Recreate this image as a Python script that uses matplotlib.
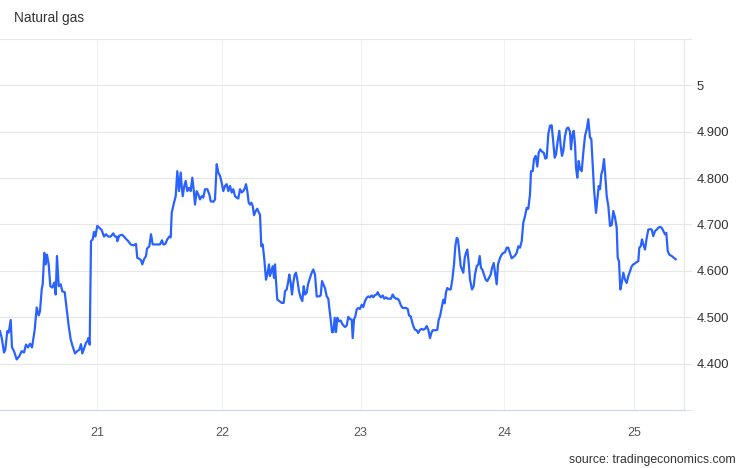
import matplotlib
matplotlib.use("Agg")
import matplotlib.pyplot as plt

plt.rcParams['font.family'] = ['Liberation Sans', 'DejaVu Sans']

# session position (chart time index) and price
t = [0, 1.7, 4, 5.3, 7.3, 8.7, 10.7, 12, 14, 16.7, 19.3, 21.7, 24, 26, 28, 30, 32, 34.7, 36.7, 38.7,
     40, 41.7, 42.7, 44.3, 45.7, 47, 48.7, 50.3, 52.3, 54.3, 55.7, 57, 58.7, 60.7, 62.3, 64.7, 66.7, 68.7, 70.7, 72.7,
     75, 77.3, 79.3, 81, 82.3, 84.3, 86, 87.3, 88.3, 89.7, 91, 92.7, 94, 95.3, 97.3, 99.3, 101.7, 104, 106, 108.3,
     110.7, 113.3, 115, 116.7, 117.3, 119.3, 122, 124, 126, 128.3, 130.7, 133.3, 136, 137.3, 139.3, 141, 142.3, 144, 146, 147,
     149.3, 151, 152.7, 155, 157.3, 160, 162, 163.3, 165.3, 167.3, 169.3, 170.7, 171.7, 174, 175.7, 177.3, 179, 180.7, 181.7, 182.7,
     184.3, 185.7, 187.3, 189, 190.7, 192.3, 194, 195, 196.7, 198.3, 200, 201.7, 203.3, 205, 207.3, 209.3, 210.7, 213.3, 215, 216.7,
     218.3, 220, 221.7, 223.3, 225, 226.7, 228.3, 230, 231.7, 233.3, 235, 236.7, 238.3, 240, 241.7, 243.3, 245, 246, 247.3, 248.7,
     250, 251.3, 252.7, 254, 255.7, 257.3, 259, 260, 261.3, 262.7, 264.3, 266, 267.3, 269, 270, 271.3, 272.7, 274, 275, 276,
     277.3, 279.3, 281.7, 283.7, 285, 286.7, 288.3, 289.3, 290.7, 292, 293.3, 294.7, 296, 297.3, 299, 300.7, 302.3, 303.7, 305, 306.7,
     308, 310, 311.7, 313.3, 315, 316.7, 319, 320.7, 322, 323.3, 325, 326.7, 328.3, 329.3, 330.7, 332, 333.3, 334.7, 336, 337.3,
     339, 340.7, 342.7, 345, 346.7, 348.3, 350, 351.7, 352.7, 354, 355.3, 356.7, 358.3, 360, 361.7, 363.3, 365, 366.7, 368.3, 370,
     371.7, 373.3, 375, 376.7, 377.7, 379.3, 381, 382.7, 384.3, 386, 387.7, 389.3, 391, 392.7, 394.3, 396, 397.7, 399.3, 401, 402.7,
     404.3, 406, 407.7, 409, 410.7, 412, 413.3, 415, 416.7, 418.3, 420, 421.7, 423.3, 425, 426.7, 428.3, 430, 431.3, 432.7, 434.3,
     436, 437.3, 438.7, 440, 441.7, 443.3, 444.7, 446, 447.3, 449, 450.7, 452.3, 454, 455.3, 456.7, 458, 459.3, 460.7, 462, 463.3,
     464.7, 466, 467.3, 468.7, 470, 472, 473.7, 475, 476.7, 478.3, 479.7, 481, 482.3, 484, 485.7, 487.3, 489, 490.7, 492, 493.7,
     495.3, 496.7, 498, 500, 501.7, 503.3, 505, 506.7, 508.3, 510, 511.7, 513.3, 515, 516.7, 518.3, 520, 521.7, 523.3, 525, 526.7,
     528.3, 530, 531, 532.7, 534, 535.7, 537.3, 538.7, 540.3, 542, 543.7, 545.3, 546.7, 548.3, 550, 551.7, 553.3, 554.7, 556, 557.7,
     559.3, 560.7, 562, 563.3, 565, 566.7, 568.3, 570, 571, 572.3, 573.7, 575, 576, 577.3, 578.7, 580, 581.7, 583.3, 585, 586.7,
     588.3, 590, 591.3, 592.7, 594, 595, 596, 597.3, 598.7, 600, 601.3, 602.7, 604, 605.3, 606.7, 608.3, 610, 611.7, 613.3, 615,
     616.7, 617.7, 619, 620.3, 621.7, 623.3, 625, 626.7, 628.3, 630, 631.7, 633.3, 635, 636.7, 638.3, 639.3, 640.7, 642, 643.3, 645,
     646.7, 648.3, 650, 651.7, 653.3, 655, 656.7, 658.3, 660, 661.7, 663.3, 665, 666.3, 667.7, 669.3, 671.7, 674, 675.7]

price = [4.470, 4.456, 4.424, 4.430, 4.470, 4.467, 4.494, 4.435, 4.427, 4.409, 4.416, 4.427, 4.424, 4.441, 4.435, 4.443, 4.435, 4.473, 4.521, 4.504,
         4.513, 4.560, 4.571, 4.639, 4.614, 4.635, 4.614, 4.567, 4.564, 4.575, 4.549, 4.632, 4.567, 4.571, 4.556, 4.554, 4.517, 4.481, 4.452, 4.437,
         4.422, 4.427, 4.430, 4.442, 4.422, 4.434, 4.445, 4.448, 4.455, 4.441, 4.664, 4.668, 4.684, 4.674, 4.697, 4.693, 4.688, 4.674, 4.679, 4.674,
         4.674, 4.681, 4.674, 4.674, 4.664, 4.676, 4.678, 4.674, 4.669, 4.664, 4.657, 4.655, 4.658, 4.628, 4.626, 4.623, 4.614, 4.625, 4.632, 4.648,
         4.653, 4.679, 4.657, 4.657, 4.657, 4.657, 4.666, 4.657, 4.658, 4.668, 4.674, 4.672, 4.725, 4.747, 4.761, 4.815, 4.772, 4.812, 4.783, 4.761,
         4.783, 4.794, 4.772, 4.779, 4.772, 4.801, 4.769, 4.743, 4.772, 4.765, 4.754, 4.761, 4.758, 4.776, 4.776, 4.765, 4.750, 4.749, 4.754, 4.830,
         4.812, 4.805, 4.790, 4.772, 4.783, 4.787, 4.772, 4.783, 4.769, 4.776, 4.761, 4.758, 4.756, 4.776, 4.769, 4.772, 4.779, 4.787, 4.772, 4.747,
         4.743, 4.747, 4.740, 4.720, 4.729, 4.734, 4.725, 4.721, 4.653, 4.657, 4.625, 4.581, 4.592, 4.614, 4.589, 4.599, 4.610, 4.585, 4.614, 4.578,
         4.538, 4.535, 4.531, 4.531, 4.556, 4.560, 4.578, 4.592, 4.574, 4.549, 4.574, 4.592, 4.596, 4.581, 4.556, 4.542, 4.535, 4.567, 4.549, 4.553,
         4.571, 4.585, 4.596, 4.603, 4.592, 4.545, 4.545, 4.547, 4.578, 4.571, 4.563, 4.545, 4.540, 4.520, 4.495, 4.468, 4.468, 4.499, 4.468, 4.499,
         4.491, 4.493, 4.484, 4.479, 4.482, 4.501, 4.496, 4.495, 4.455, 4.495, 4.502, 4.517, 4.520, 4.518, 4.527, 4.522, 4.535, 4.542, 4.545, 4.543,
         4.547, 4.543, 4.548, 4.549, 4.554, 4.547, 4.543, 4.547, 4.540, 4.543, 4.540, 4.540, 4.540, 4.549, 4.543, 4.540, 4.540, 4.535, 4.525, 4.520,
         4.520, 4.520, 4.518, 4.504, 4.502, 4.491, 4.481, 4.473, 4.472, 4.466, 4.473, 4.475, 4.473, 4.475, 4.481, 4.473, 4.455, 4.466, 4.472, 4.472,
         4.472, 4.473, 4.495, 4.502, 4.520, 4.538, 4.530, 4.554, 4.563, 4.560, 4.560, 4.581, 4.614, 4.653, 4.671, 4.668, 4.639, 4.610, 4.603, 4.596,
         4.628, 4.639, 4.646, 4.617, 4.581, 4.560, 4.567, 4.592, 4.610, 4.614, 4.632, 4.606, 4.603, 4.592, 4.581, 4.578, 4.585, 4.592, 4.606, 4.617,
         4.592, 4.571, 4.614, 4.628, 4.635, 4.639, 4.640, 4.650, 4.650, 4.638, 4.627, 4.630, 4.633, 4.639, 4.653, 4.650, 4.664, 4.704, 4.718, 4.736,
         4.734, 4.765, 4.815, 4.815, 4.841, 4.848, 4.825, 4.855, 4.862, 4.857, 4.855, 4.842, 4.844, 4.895, 4.913, 4.914, 4.877, 4.844, 4.851, 4.880,
         4.902, 4.869, 4.848, 4.859, 4.891, 4.907, 4.909, 4.900, 4.862, 4.891, 4.902, 4.873, 4.823, 4.801, 4.837, 4.819, 4.815, 4.855, 4.891, 4.905,
         4.927, 4.887, 4.885, 4.830, 4.776, 4.750, 4.725, 4.754, 4.783, 4.776, 4.808, 4.819, 4.841, 4.805, 4.761, 4.740, 4.697, 4.699, 4.729, 4.715,
         4.693, 4.628, 4.621, 4.560, 4.574, 4.596, 4.581, 4.574, 4.589, 4.599, 4.610, 4.614, 4.616, 4.619, 4.621, 4.650, 4.653, 4.668, 4.657, 4.646,
         4.671, 4.689, 4.690, 4.689, 4.675, 4.686, 4.689, 4.693, 4.695, 4.693, 4.686, 4.679, 4.682, 4.643, 4.635, 4.632, 4.628, 4.625]

day_pos = [97.3, 222.3, 360.7, 504.3, 634.3]
day_labels = ['21', '22', '23', '24', '25']
y_ticks = [4.3, 4.4, 4.5, 4.6, 4.7, 4.8, 4.9, 5.0, 5.1]
y_labels = ['', '4.400', '4.500', '4.600', '4.700', '4.800', '4.900', '5', '']

fig = plt.figure(figsize=(7.46, 4.68), dpi=100)
ax = fig.add_axes([0, 0.1239, 0.9173, 0.7928])

ax.plot(t, price, color='#2962ff', linewidth=1.6, solid_joinstyle='round')

ax.set_xlim(0, 684.3)
ax.set_ylim(4.3, 5.1)

ax.set_xticks(day_pos)
ax.set_xticklabels(day_labels)
ax.set_yticks(y_ticks)
ax.set_yticklabels(y_labels)
ax.yaxis.tick_right()

ax.grid(axis='y', color='#e6e6e6', linewidth=0.8)
ax.grid(axis='x', color='#eef1f5', linewidth=0.8)
ax.set_axisbelow(True)

for side in ['top', 'left']:
    ax.spines[side].set_visible(False)
ax.spines['right'].set_color('#e6e6e6')
ax.spines['bottom'].set_color('#ccd6eb')
ax.spines['right'].set_linewidth(0.8)
ax.spines['bottom'].set_linewidth(0.8)

ax.tick_params(axis='y', length=6, width=0.8, color='#e6e6e6', pad=3, labelsize=9.4, labelcolor='#333333')
ax.tick_params(axis='x', length=0, pad=12, labelsize=9, labelcolor='#555555')

fig.text(0.019, 0.961, 'Natural gas', fontsize=9.8, color='#333333', va='center', ha='left')
fig.text(0.986, 0.017, 'source: tradingeconomics.com', fontsize=8.8, color='#333333', va='center', ha='right')

fig.savefig('out.png', dpi=100)
